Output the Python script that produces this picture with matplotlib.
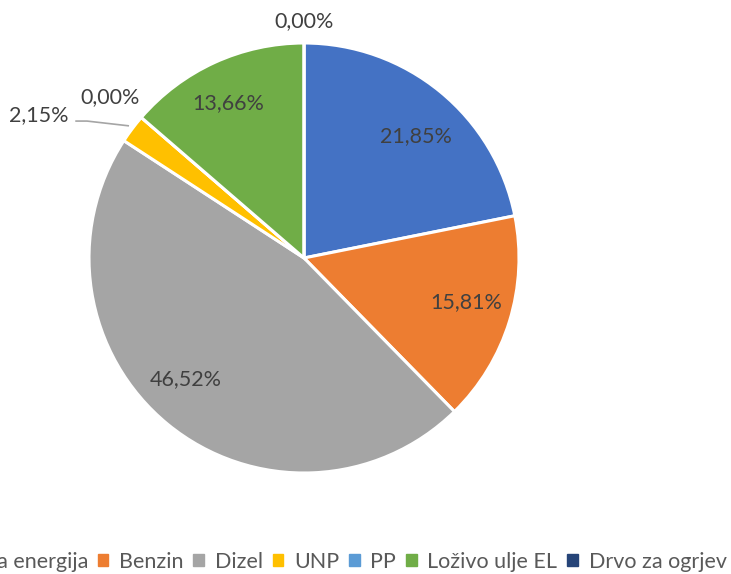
import matplotlib
matplotlib.use("Agg")
import matplotlib.pyplot as plt
import numpy as np

categories = ["Električna energija", "Benzin", "Dizel", "UNP", "PP", "Loživo ulje EL", "Drvo za ogrjev"]
values = [21.85, 15.81, 46.52, 2.15, 0.00, 13.66, 0.00]
labels = ["21,85%", "15,81%", "46,52%", "2,15%", "0,00%", "13,66%", "0,00%"]
colors = ["#4472C4", "#ED7D31", "#A5A5A5", "#FFC000", "#5B9BD5", "#70AD47", "#264478"]

# label placement (style): radial distance in units of radius, angle offset in degrees
label_r = [0.77, 0.78, 0.79, 1.40, 1.17, 0.80, 1.10]
label_da = [-3, 2, -5, 8.6, 1.1, 1.4, 0]

plt.rcParams['font.family'] = ['Lato', 'DejaVu Sans']
W, H = 731, 574
fig = plt.figure(figsize=(W / 100, H / 100), dpi=100)
ax = fig.add_axes([0, 0, 1, 1])

cx, cy, R = 304, H - 258, 215
wedges, _ = ax.pie(values, colors=colors, startangle=90, counterclock=False,
                   center=(cx, cy), radius=R, frame=True,
                   wedgeprops=dict(edgecolor='white', linewidth=2.2))
ax.set_xlim(0, W)
ax.set_ylim(0, H)
ax.set_aspect('equal')
ax.axis('off')

txtc = '#404040'
fs = 15.5
for i, w in enumerate(wedges):
    mid = (w.theta1 + w.theta2) / 2 + label_da[i]
    r = label_r[i] * R
    x = cx + r * np.cos(np.radians(mid))
    y = cy + r * np.sin(np.radians(mid))
    ax.text(x, y, labels[i], ha='center', va='center', fontsize=fs, color=txtc)
    if i == 3:
        m = np.radians((w.theta1 + w.theta2) / 2)
        px, py = cx + R * np.cos(m), cy + R * np.sin(m)
        ax.plot([px - 4, x + 48, x + 37], [py + 3, y - 6, y - 6], color='#A5A5A5', lw=1.2)

handles = [plt.Rectangle((0, 0), 1, 1, color=c) for c in colors]
leg = fig.legend(handles, categories, loc='center right', bbox_to_anchor=(746 / W, 1 - 562 / H),
                 ncol=7, frameon=False, fontsize=fs, handlelength=0.5, handleheight=0.5,
                 handletextpad=0.5, columnspacing=0.45, labelcolor='#595959')
fig.savefig('out.png', dpi=100)
